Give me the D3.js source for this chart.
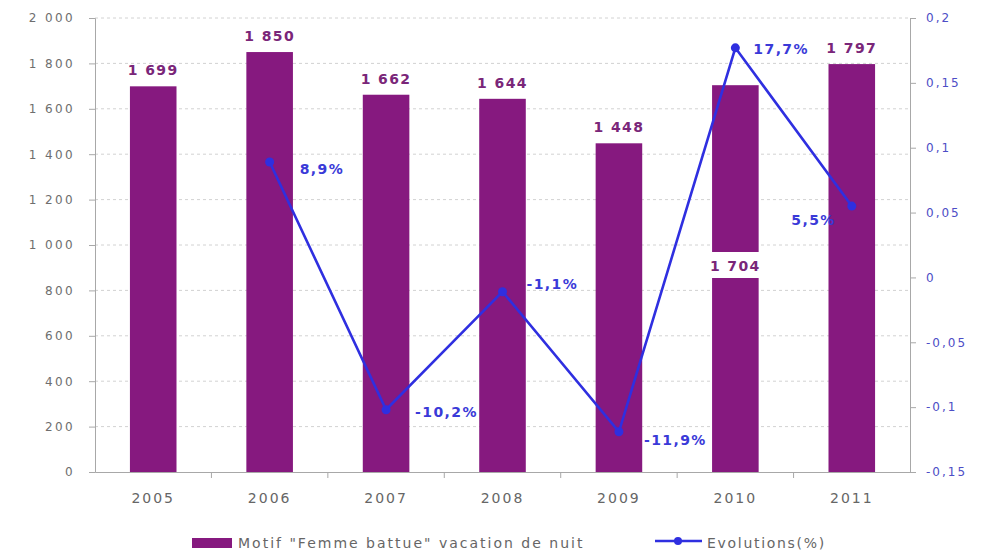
<!DOCTYPE html>
<html>
<head>
<meta charset="utf-8">
<script src="https://cdn.jsdelivr.net/npm/d3@7"></script>
<style>
  body { margin: 0; background: #fff; }
  svg { display: block; }
  .tick text { font-family: "DejaVu Sans", sans-serif; }
</style>
</head>
<body>
<script>
const YEARS = ['2005', '2006', '2007', '2008', '2009', '2010', '2011'];
const COUNTS = [1699, 1850, 1662, 1644, 1448, 1704, 1797];
const EVOLUTIONS = [null, 0.089, -0.102, -0.011, -0.119, 0.177, 0.055];
const LEFT_TICKS = [0, 200, 400, 600, 800, 1000, 1200, 1400, 1600, 1800, 2000];
const RIGHT_TICKS = [-0.15, -0.1, -0.05, 0, 0.05, 0.1, 0.15, 0.2];
const BAR_NAME = 'Motif "Femme battue" vacation de nuit';
const LINE_NAME = 'Evolutions(%)';

const width = 987, height = 556;
const margin = { top: 18, right: 77, bottom: 84, left: 95 };

// label offsets for the % labels, relative to each point (dx, dy, anchor)
const PCT_OFFSETS = [null, [30, 12, 'start'], [29, 7, 'start'], [24, -3, 'start'],
                     [25, 13, 'start'], [18, 6, 'start'], [-16, 19, 'end']];

const BAR_COLOR = '#86197f';
const LINE_COLOR = '#2f2fe0';

const fr = d3.formatLocale({ decimal: ',', thousands: '\u00a0', grouping: [3], currency: ['', '€'] });
const fmtCount = fr.format(',d');
const fmtAxisR = d => String(+d.toFixed(2)).replace('.', ',');
const fmtPct = d => (d * 100).toFixed(1).replace('.', ',') + '%';

const svg = d3.select('body').append('svg')
  .attr('width', width).attr('height', height);

const x = d3.scaleBand().domain(YEARS)
  .range([margin.left, width - margin.right]);
const yL = d3.scaleLinear().domain([0, 2000])
  .range([height - margin.bottom, margin.top]);
const yR = d3.scaleLinear().domain([-0.15, 0.2])
  .range([height - margin.bottom, margin.top]);
const barW = x.bandwidth() * 0.4;
const bottom = height - margin.bottom;

// Gridlines
svg.append('g')
  .selectAll('line')
  .data(LEFT_TICKS.filter(d => d > 0))
  .join('line')
  .attr('x1', margin.left).attr('x2', width - margin.right)
  .attr('y1', d => yL(d)).attr('y2', d => yL(d))
  .attr('stroke', '#d2d2d2')
  .attr('stroke-dasharray', '3,3');

// Bars
svg.append('g')
  .selectAll('rect')
  .data(COUNTS)
  .join('rect')
  .attr('x', (d, i) => x(YEARS[i]) + (x.bandwidth() - barW) / 2)
  .attr('y', d => yL(d))
  .attr('width', barW)
  .attr('height', d => bottom - yL(d))
  .attr('fill', BAR_COLOR);

// Bar labels (2010 label sits inside the bar on a white box)
const barLabels = svg.append('g');
COUNTS.forEach((d, i) => {
  const cx = x(YEARS[i]) + x.bandwidth() / 2;
  let ty = yL(d) - 11;
  if (YEARS[i] === '2010') {
    ty = 271;
    barLabels.append('rect')
      .attr('x', cx - barW / 2 - 2).attr('y', 252)
      .attr('width', barW + 4).attr('height', 26)
      .attr('fill', '#fff');
  }
  barLabels.append('text')
    .attr('x', cx).attr('y', ty)
    .attr('text-anchor', 'middle')
    .attr('font-family', 'DejaVu Sans, sans-serif')
    .attr('font-weight', 'bold')
    .attr('font-size', 14)
    .attr('letter-spacing', 1.4)
    .attr('fill', '#7a2679')
    .text(fmtCount(d));
});

// Axes
const axisL = svg.append('g')
  .attr('transform', `translate(${margin.left},0)`)
  .call(d3.axisLeft(yL).tickValues(LEFT_TICKS).tickFormat(fmtCount).tickSize(6).tickPadding(14));
const axisR = svg.append('g')
  .attr('transform', `translate(${width - margin.right},0)`)
  .call(d3.axisRight(yR).tickValues(RIGHT_TICKS).tickFormat(fmtAxisR).tickSize(6).tickPadding(10));
const axisB = svg.append('g')
  .attr('transform', `translate(0,${bottom})`)
  .call(d3.axisBottom(x).tickSize(0).tickPadding(21));

[axisL, axisR, axisB].forEach(a => {
  a.select('.domain').attr('stroke', '#a8a8a8');
  a.selectAll('.tick line').attr('stroke', '#a8a8a8');
});
axisL.selectAll('.tick text').attr('font-size', 12).attr('letter-spacing', 2.4).attr('fill', '#6e6e6e');
axisR.selectAll('.tick text').attr('font-size', 12).attr('letter-spacing', 2).attr('fill', '#4d4dc6');
axisB.selectAll('.tick text').attr('font-size', 14).attr('letter-spacing', 2).attr('fill', '#666');

// boundary ticks on the category axis
svg.append('g')
  .selectAll('line')
  .data(YEARS.slice(1))
  .join('line')
  .attr('x1', d => x(d)).attr('x2', d => x(d))
  .attr('y1', bottom).attr('y2', bottom + 6)
  .attr('stroke', '#a8a8a8');

// Evolution line
const pts = EVOLUTIONS.map((v, i) => ({ year: YEARS[i], v, i })).filter(d => d.v !== null);
const line = d3.line()
  .x(d => x(d.year) + x.bandwidth() / 2)
  .y(d => yR(d.v));

svg.append('path')
  .datum(pts)
  .attr('d', line)
  .attr('fill', 'none')
  .attr('stroke', LINE_COLOR)
  .attr('stroke-width', 2.6);

svg.append('g')
  .selectAll('circle')
  .data(pts)
  .join('circle')
  .attr('cx', d => x(d.year) + x.bandwidth() / 2)
  .attr('cy', d => yR(d.v))
  .attr('r', 4.5)
  .attr('fill', LINE_COLOR);

svg.append('g')
  .selectAll('text')
  .data(pts)
  .join('text')
  .attr('x', d => x(d.year) + x.bandwidth() / 2 + PCT_OFFSETS[d.i][0])
  .attr('y', d => yR(d.v) + PCT_OFFSETS[d.i][1])
  .attr('text-anchor', d => PCT_OFFSETS[d.i][2])
  .attr('font-family', 'DejaVu Sans, sans-serif')
  .attr('font-weight', 'bold')
  .attr('font-size', 14)
  .attr('letter-spacing', 1.4)
  .attr('fill', '#3a3ad8')
  .text(d => fmtPct(d.v));

// Legend
const legend = svg.append('g').attr('transform', `translate(0,${height - 13})`);
legend.append('rect')
  .attr('x', 192).attr('y', -5)
  .attr('width', 40).attr('height', 10)
  .attr('fill', BAR_COLOR);
legend.append('text')
  .attr('x', 238).attr('y', 5)
  .attr('font-family', 'DejaVu Sans, sans-serif')
  .attr('font-size', 14)
  .attr('letter-spacing', 2)
  .attr('fill', '#666')
  .text(BAR_NAME);
legend.append('line')
  .attr('x1', 655).attr('x2', 702)
  .attr('y1', -2).attr('y2', -2)
  .attr('stroke', LINE_COLOR).attr('stroke-width', 2.6);
legend.append('circle')
  .attr('cx', 678).attr('cy', -2).attr('r', 4)
  .attr('fill', LINE_COLOR);
legend.append('text')
  .attr('x', 707).attr('y', 5)
  .attr('font-family', 'DejaVu Sans, sans-serif')
  .attr('font-size', 14)
  .attr('letter-spacing', 1.7)
  .attr('fill', '#666')
  .text(LINE_NAME);
</script>
</body>
</html>
